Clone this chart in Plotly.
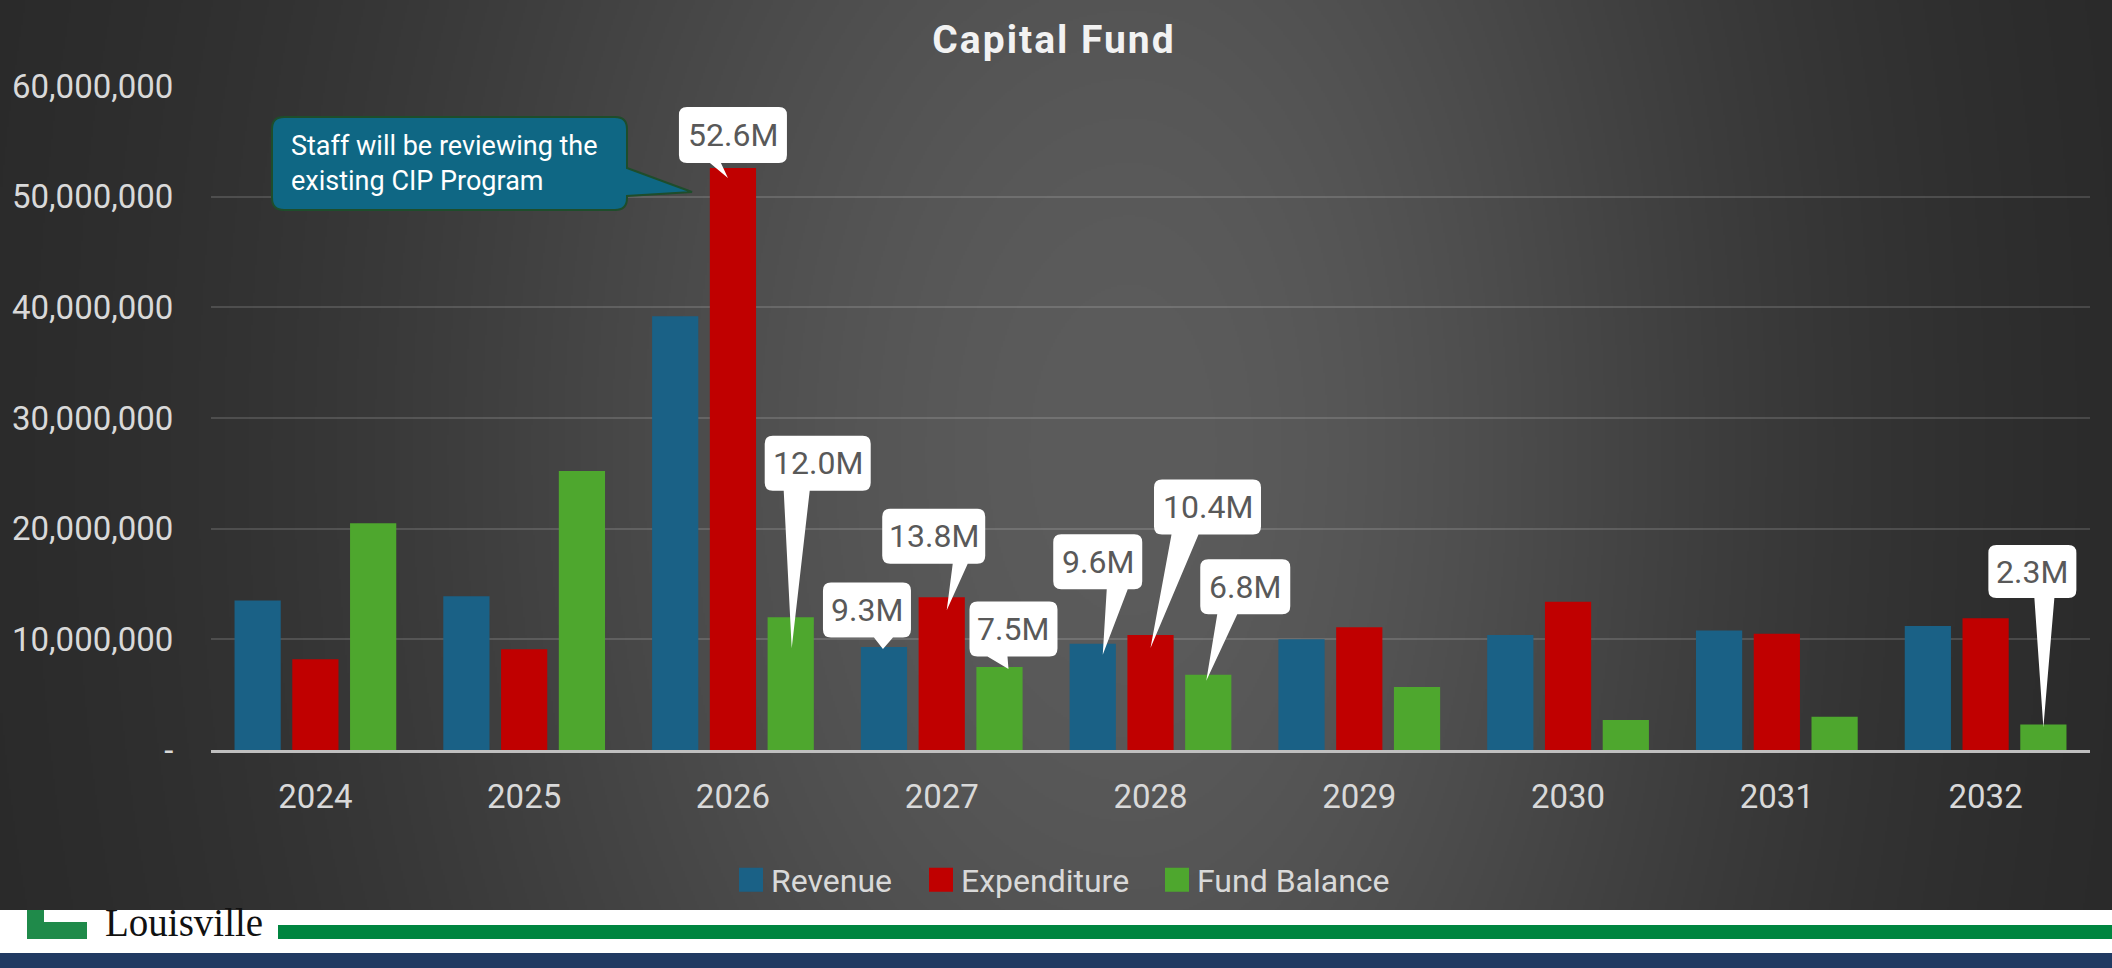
import base64, struct, zlib
import numpy as np
import plotly.graph_objects as go

# ---------------- data ----------------
years = ["2024", "2025", "2026", "2027", "2028", "2029", "2030", "2031", "2032"]
revenue = [13.5e6, 13.9e6, 39.2e6, 9.3e6, 9.6e6, 10.0e6, 10.4e6, 10.8e6, 11.2e6]
expenditure = [8.2e6, 9.1e6, 52.6e6, 13.8e6, 10.4e6, 11.1e6, 13.4e6, 10.5e6, 11.9e6]
fund_balance = [20.5e6, 25.2e6, 12.0e6, 7.5e6, 6.8e6, 5.7e6, 2.7e6, 3.0e6, 2.3e6]
series_names = ["Revenue", "Expenditure", "Fund Balance"]
y_tickvals = [0, 10e6, 20e6, 30e6, 40e6, 50e6, 60e6]
y_ticktext = ["-", "10,000,000", "20,000,000", "30,000,000", "40,000,000", "50,000,000", "60,000,000"]
title_text = "Capital Fund"
note_text = "Staff will be reviewing the<br>existing CIP Program"
# labelled bars: (series index, year index)
labelled = [(1, 2), (2, 2), (0, 3), (1, 3), (2, 3), (0, 4), (1, 4), (2, 4), (2, 8)]

# ---------------- styling ----------------
W, H = 2112, 968
L, R, T, B = 211, 2090, 86, 750
colors = ["#1a6186", "#c00000", "#4ea72e"]
FONT = "Roboto"
BARGAP, GROUPGAP = 0.17, 0.2
slot = (1 - BARGAP) / 3

def px(x):
    return (x - L) / (R - L)

def py(y):
    return (B - y) / (B - T)

# background gradient image
def png_uri(arr):
    h, w, _ = arr.shape
    raw = b"".join(b"\x00" + arr[i].tobytes() for i in range(h))
    def chunk(tag, data):
        c = struct.pack(">I", len(data)) + tag + data
        return c + struct.pack(">I", zlib.crc32(tag + data) & 0xffffffff)
    png = (b"\x89PNG\r\n\x1a\n"
           + chunk(b"IHDR", struct.pack(">IIBBBBB", w, h, 8, 2, 0, 0, 0))
           + chunk(b"IDAT", zlib.compress(raw, 9))
           + chunk(b"IEND", b""))
    return "data:image/png;base64," + base64.b64encode(png).decode()

gw, gh = 1056, 484
xs = np.linspace(0, W, gw)[None, :]
ys = np.linspace(0, H, gh)[:, None]
cx = 1130.0
width = np.where(xs < cx, 740.0, 640.0)
g = np.exp(-((xs - cx) / width) ** 2)
vert = 1 - 0.18 * ((ys - 450) / 520) ** 2
v = 38 + 54 * g * vert
v = np.clip(v, 30, 95).astype(np.uint8)
img = np.repeat(v[:, :, None], 3, axis=2)
bg_uri = png_uri(np.ascontiguousarray(img))

legend_ids = ["legend", "legend2", "legend3"]
legend_left = [731, 921, 1157]

fig = go.Figure()
for name, vals, col, lg in zip(series_names, [revenue, expenditure, fund_balance], colors, legend_ids):
    fig.add_trace(go.Bar(x=list(range(len(years))), y=vals, name=name, marker_color=col,
                         marker_line_width=0, legend=lg))

all_series = [revenue, expenditure, fund_balance]

# callout geometry per label (box centre dx, dy up; w, h; tail base b0,b1 rel box centre; tip rel bar top)
callout_geom = {
    (1, 2): (0, 33, 108, 56, -23, -12, -5, -10),
    (2, 2): (27, 154, 106, 55, -34, -8, 1, -31),
    (0, 3): (-17, 37, 88, 55, 7, 26, -1, -2),
    (1, 3): (-8, 61, 103, 55, 19, 34, 5, -13),
    (2, 3): (14, 38, 88, 55, -26, -6, 9, -2),
    (0, 4): (5, 82, 89, 55, 9, 30, 10, -11),
    (1, 4): (57, 128, 107, 55, -36, -9, 0, -13),
    (2, 4): (37, 88, 90, 55, -28, -8, -2, -6),
    (2, 8): (-11, 153, 88, 53, 2, 22, 0, -3),
}

def callout_path(dx, dy, w, h, b0, b1, tx, ty, r=8):
    l, rr = dx - w / 2, dx + w / 2
    top, bot = dy + h / 2, dy - h / 2
    return (f"M{l + r},{top} L{rr - r},{top} Q{rr},{top} {rr},{top - r} "
            f"L{rr},{bot + r} Q{rr},{bot} {rr - r},{bot} "
            f"L{dx + b1},{bot} L{tx},{ty} L{dx + b0},{bot} "
            f"L{l + r},{bot} Q{l},{bot} {l},{bot + r} L{l},{top - r} Q{l},{top} {l + r},{top} Z")

shapes = []
annotations = []
for (s, i) in labelled:
    val = all_series[s][i]
    xa = i + (s - 1) * slot
    dx, dy, w, h, b0, b1, tx, ty = callout_geom[(s, i)]
    shapes.append(dict(type="path", xref="x", yref="y", xsizemode="pixel", ysizemode="pixel",
                       xanchor=xa, yanchor=val,
                       path=callout_path(dx, dy, w, h, b0, b1, tx, ty),
                       fillcolor="white", line=dict(width=0), layer="above"))
    annotations.append(dict(x=xa, y=val, xref="x", yref="y", xshift=dx, yshift=dy,
                            text=f"{val / 1e6:.1f}M", showarrow=False,
                            xanchor="center", yanchor="middle",
                            font=dict(family=FONT, size=32, color="#595959")))

# teal note callout (pixel coordinates relative to top-left of plot)
nl, nr, ntop, nbot, rr_ = 61, 416, -31, -124, 12
note_path = (f"M{nl + rr_},{ntop} L{nr - rr_},{ntop} Q{nr},{ntop} {nr},{ntop - rr_} "
             f"L{nr},-82 L481,-106 L{nr},-110 L{nr},{nbot + rr_} Q{nr},{nbot} {nr - rr_},{nbot} "
             f"L{nl + rr_},{nbot} Q{nl},{nbot} {nl},{nbot + rr_} L{nl},{ntop - rr_} Q{nl},{ntop} {nl + rr_},{ntop} Z")
shapes.append(dict(type="path", xref="paper", yref="paper", xsizemode="pixel", ysizemode="pixel",
                   xanchor=0, yanchor=1, path=note_path, fillcolor="#0f6784",
                   line=dict(color="#1e4d2b", width=2), layer="above"))
annotations.append(dict(x=px(289), y=py(163), xref="paper", yref="paper", text=note_text,
                        showarrow=False, xanchor="left", yanchor="middle", align="left",
                        font=dict(family=FONT, size=27, color="white")))

# footer
shapes += [
    dict(type="rect", xref="paper", yref="paper", x0=px(0), x1=px(W), y0=py(910), y1=py(H),
         fillcolor="#ffffff", line=dict(width=0), layer="above"),
    dict(type="rect", xref="paper", yref="paper", x0=px(0), x1=px(W), y0=py(953), y1=py(H),
         fillcolor="#213a62", line=dict(width=0), layer="above"),
    dict(type="rect", xref="paper", yref="paper", x0=px(278), x1=px(W), y0=py(925), y1=py(939),
         fillcolor="#008540", line=dict(width=0), layer="above"),
    dict(type="rect", xref="paper", yref="paper", x0=px(27), x1=px(87), y0=py(910), y1=py(939),
         fillcolor="#1f8a4a", line=dict(width=0), layer="above"),
    dict(type="rect", xref="paper", yref="paper", x0=px(44), x1=px(87), y0=py(910), y1=py(922),
         fillcolor="#ffffff", line=dict(width=0), layer="above"),
]
annotations.append(dict(x=px(103), y=py(923), xref="paper", yref="paper", text="Louisville",
                        showarrow=False, xanchor="left", yanchor="middle",
                        font=dict(family="Liberation Serif", size=39, color="#111111")))

legend_style = dict(orientation="h", yanchor="middle", xanchor="left",
                    font=dict(family=FONT, size=32, color="#d9d9d9"),
                    bgcolor="rgba(0,0,0,0)", itemwidth=30)
legends = {}
for lg, xl in zip(legend_ids, legend_left):
    legends[lg] = dict(legend_style, x=px(xl), y=py(880))

fig.update_layout(
    width=W, height=H,
    margin=dict(l=L, r=W - R, t=T, b=H - B, pad=0, autoexpand=False),
    paper_bgcolor="#2a2a2a", plot_bgcolor="rgba(0,0,0,0)",
    barmode="group", bargap=BARGAP, bargroupgap=GROUPGAP,
    title=dict(text=f"<b>{title_text}</b>", x=1054 / W, xref="container", y=1 - 39 / H,
               yref="container", xanchor="center", yanchor="middle",
               font=dict(family=FONT, size=39, color="#f2f2f2")),
    showlegend=True,
    xaxis=dict(tickmode="array", tickvals=list(range(len(years))), ticktext=years,
               range=[-0.5, len(years) - 0.5], showgrid=False, zeroline=False,
               showline=True, linecolor="#bfbfbf", linewidth=3, automargin=False,
               ticks="outside", ticklen=15, tickcolor="rgba(0,0,0,0)",
               tickfont=dict(family=FONT, size=33, color="#d9d9d9")),
    yaxis=dict(range=[0, 60e6], tickmode="array", tickvals=y_tickvals, ticktext=y_ticktext,
               showgrid=True, gridcolor="rgba(255,255,255,0.14)", gridwidth=2,
               zeroline=False, showline=False, automargin=False,
               ticks="outside", ticklen=30, tickcolor="rgba(0,0,0,0)",
               tickfont=dict(family=FONT, size=33, color="#d9d9d9")),
    shapes=shapes, annotations=annotations,
    images=[dict(source=bg_uri, xref="paper", yref="paper", x=px(0), y=py(0),
                 sizex=W / (R - L), sizey=H / (B - T), xanchor="left", yanchor="top",
                 sizing="stretch", layer="below")],
    **legends,
)

post = (
    "document.body.style.margin='0';document.body.style.overflow='hidden';"
    "var t=document.querySelector('.gtitle'); if(t){t.style.letterSpacing='2px';}"
    "document.querySelectorAll('.legendpoints path').forEach(function(p){"
    "p.setAttribute('d','M12,12H-12V-12H12Z');});"
)
fig.write_html("out.html", config={"displayModeBar": False}, post_script=post)
